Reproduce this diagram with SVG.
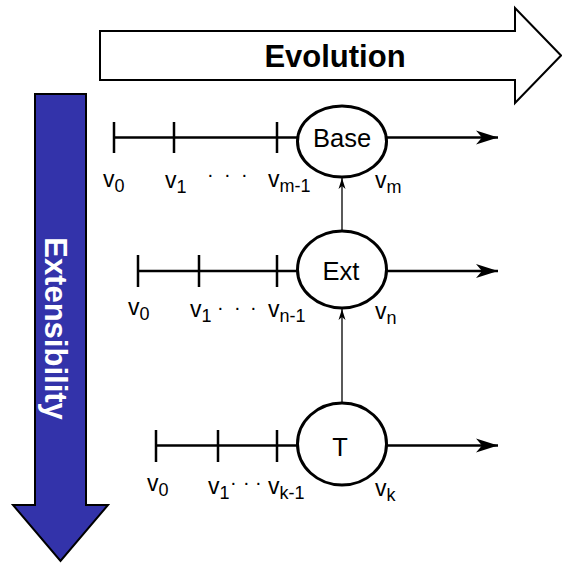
<svg xmlns="http://www.w3.org/2000/svg" width="562" height="563" viewBox="0 0 562 563">
  <style>
    .big { font-family: "Liberation Sans", Arial, sans-serif; font-weight: bold; font-size: 31px; }
    .node-label { font-family: "Liberation Sans", Arial, sans-serif; font-size: 25.5px; text-anchor: middle; fill: #000; }
    .v { font-family: "Liberation Sans", Arial, sans-serif; font-size: 23px; fill: #000; }
    .sub { font-size: 18px; }
    .dots { font-family: "Liberation Sans", Arial, sans-serif; font-size: 20px; fill: #000; }
    .node ellipse { fill: #fff; stroke: #000; stroke-width: 3; }
    .tl { stroke: #000; stroke-width: 2.5; fill: none; }
    .up { stroke: #000; stroke-width: 1.3; fill: none; }
  </style>
  <defs>
    <marker id="head" markerUnits="userSpaceOnUse" markerWidth="24" markerHeight="16" refX="22" refY="8" orient="auto">
      <path d="M0,1 L22,8 L0,15 L6,8 Z" fill="#000"/>
    </marker>
    <marker id="small" markerUnits="userSpaceOnUse" markerWidth="12" markerHeight="10" refX="11" refY="5" orient="auto">
      <path d="M0,1.5 L11,5 L0,8.5 L3,5 Z" fill="#000"/>
    </marker>
  </defs>
  <rect width="562" height="563" fill="#fff"/>

  <g id="evolution">
    <polygon points="100,31 515,31 515,8 561,55.5 515,103 515,80 100,80" fill="#fff" stroke="#000" stroke-width="2"/>
    <text class="big" x="335" y="67" text-anchor="middle">Evolution</text>
  </g>

  <g id="extensibility">
    <polygon points="35,94 86,94 86,505 108,505 60.5,561 13,505 35,505" fill="#3333aa" stroke="#000" stroke-width="2"/>
    <text class="big" x="0" y="0" fill="#fff" text-anchor="middle" transform="translate(44.5,328.5) rotate(90)">Extensibility</text>
  </g>

  <g id="connectors">
    <!-- Base timeline -->
    <path class="tl" d="M114,137.5 H297"/>
    <path class="tl" d="M114,122 V153 M174,122 V153 M277,122 V153"/>
    <path class="tl" d="M387,137.5 H498" marker-end="url(#head)"/>
    <!-- Ext timeline -->
    <path class="tl" d="M138,271 H297"/>
    <path class="tl" d="M138,255 V287 M199,255 V287 M277,255 V287"/>
    <path class="tl" d="M387,271 H498" marker-end="url(#head)"/>
    <!-- T timeline -->
    <path class="tl" d="M156,445.5 H297"/>
    <path class="tl" d="M156,430 V462 M218,430 V462 M277,430 V462"/>
    <path class="tl" d="M387,445.5 H498" marker-end="url(#head)"/>
    <!-- extension links -->
    <path class="up" d="M342,403 V309" marker-end="url(#small)"/>
    <path class="up" d="M342,231 V178" marker-end="url(#small)"/>
  </g>

  <g id="node-base" class="node">
    <ellipse cx="342" cy="141.5" rx="44.5" ry="35.5"/>
    <text class="node-label" x="342" y="147">Base</text>
  </g>
  <g id="node-ext" class="node">
    <ellipse cx="342" cy="269.5" rx="44.5" ry="38.5"/>
    <text class="node-label" x="341" y="280">Ext</text>
  </g>
  <g id="node-t" class="node">
    <ellipse cx="342" cy="444" rx="44.5" ry="41"/>
    <text class="node-label" x="340" y="456">T</text>
  </g>

  <g id="labels-base">
    <text class="v" x="103" y="187">v<tspan class="sub" dy="5">0</tspan></text>
    <text class="v" x="165" y="188">v<tspan class="sub" dy="5">1</tspan></text>
    <text class="dots" x="207 224 241" y="181">···</text>
    <text class="v" x="268" y="187">v<tspan class="sub" dy="5">m-1</tspan></text>
    <text class="v" x="375" y="188">v<tspan class="sub" dy="5">m</tspan></text>
  </g>
  <g id="labels-ext">
    <text class="v" x="128" y="315">v<tspan class="sub" dy="5">0</tspan></text>
    <text class="v" x="190" y="317">v<tspan class="sub" dy="5">1</tspan></text>
    <text class="dots" x="217 234 250" y="314">···</text>
    <text class="v" x="268" y="317">v<tspan class="sub" dy="5">n-1</tspan></text>
    <text class="v" x="375" y="319">v<tspan class="sub" dy="5">n</tspan></text>
  </g>
  <g id="labels-t">
    <text class="v" x="147" y="491">v<tspan class="sub" dy="5">0</tspan></text>
    <text class="v" x="208" y="494">v<tspan class="sub" dy="5">1</tspan></text>
    <text class="dots" x="230 243 255" y="489">···</text>
    <text class="v" x="268" y="494">v<tspan class="sub" dy="5">k-1</tspan></text>
    <text class="v" x="375" y="496">v<tspan class="sub" dy="5">k</tspan></text>
  </g>
</svg>
